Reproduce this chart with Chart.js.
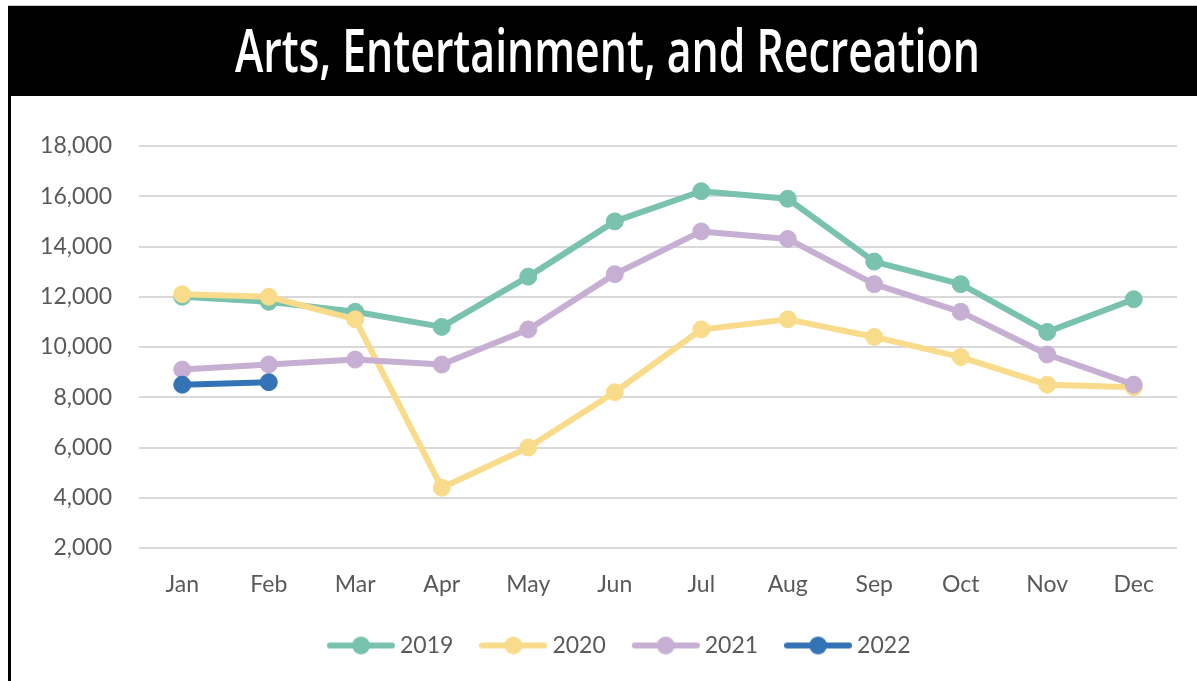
<!DOCTYPE html>
<html>
<head>
<meta charset="utf-8">
<script src="https://cdn.jsdelivr.net/npm/chart.js@4.4.1/dist/chart.umd.min.js"></script>
<style>
    html, body { margin: 0; padding: 0; background: #fff; width: 1197px; height: 681px; overflow: hidden; }
    #topline { position: absolute; left: 8px; top: 5px; width: 1189px; height: 1px; background: #c8c8c8; }
    #header { position: absolute; left: 8px; top: 6px; width: 1189px; height: 90px; background: #000; overflow: hidden; }
    #title { position: absolute; left: 5px; top: 13px; width: 100%; text-align: center; color: #fff;
             font: 600 59px 'Open Sans', 'DejaVu Sans Condensed', sans-serif; line-height: 60px; white-space: nowrap; }
    #title span { display: inline-block; transform-origin: center; }
    #leftline { position: absolute; left: 8px; top: 96px; width: 3px; height: 585px; background: #000; }
    #wrap { position: absolute; left: 11px; top: 96px; width: 1186px; height: 585px; }
</style>
</head>
<body>
<div id="topline"></div>
<div id="header"><div id="title"><span id="titleText">Arts, Entertainment, and Recreation</span></div></div>
<div id="leftline"></div>
<div id="wrap"><canvas id="trendChart" width="1186" height="585"></canvas></div>

<script>
// ---- data ----
const months = ['Jan', 'Feb', 'Mar', 'Apr', 'May', 'Jun', 'Jul', 'Aug', 'Sep', 'Oct', 'Nov', 'Dec'];
const years = ['2019', '2020', '2021', '2022'];
const v2019 = [12000, 11800, 11400, 10800, 12800, 15000, 16200, 15900, 13400, 12500, 10600, 11900];
const v2020 = [12100, 12000, 11100, 4400, 6000, 8200, 10700, 11100, 10400, 9600, 8500, 8400];
const v2021 = [9100, 9300, 9500, 9300, 10700, 12900, 14600, 14300, 12500, 11400, 9700, 8500];
const v2022 = [8500, 8600];
const yMin = 2000, yMax = 18000, yStep = 2000;

const colors = ['#78C2AE', '#F9DC8B', '#C6AFD3', '#3473B5'];
const seriesValues = [v2019, v2020, v2021, v2022];

const TEXT_COLOR = '#595959';
const FONT = "Lato, 'Open Sans', sans-serif";
const LEGEND_DX = 28;

(function() {
    'use strict';

    // stretch/squeeze title to the width seen in the reference
    function fitTitle() {
        const span = document.getElementById('titleText');
        const w = span.getBoundingClientRect().width;
        if (w > 0) span.style.transform = 'scaleX(' + (745 / w) + ')';
    }

    // legend marker: short line with a dot
    function legendMarker(color) {
        const c = document.createElement('canvas');
        c.width = 68; c.height = 20;
        const g = c.getContext('2d');
        g.strokeStyle = color;
        g.lineWidth = 6;
        g.lineCap = 'round';
        g.beginPath(); g.moveTo(3, 10); g.lineTo(65, 10); g.stroke();
        g.fillStyle = color;
        g.beginPath(); g.arc(34, 10, 9, 0, Math.PI * 2); g.fill();
        return c;
    }

    const markers = colors.map(legendMarker);

    const legendShift = {
        id: 'legendShift',
        afterLayout(chart) {
            if (chart.legend) {
                chart.legend.left += LEGEND_DX;
                chart.legend.right += LEGEND_DX;
            }
        }
    };

    function initChart() {
        fitTitle();
        const ctx = document.getElementById('trendChart').getContext('2d');

        const datasets = years.map(function(y, i) {
            return {
                label: y,
                data: seriesValues[i],
                borderColor: colors[i],
                backgroundColor: colors[i],
                borderWidth: 6,
                tension: 0,
                fill: false,
                borderCapStyle: 'round',
                borderJoinStyle: 'round',
                pointBackgroundColor: colors[i],
                pointBorderColor: colors[i],
                pointBorderWidth: 1,
                pointRadius: 8.5,
                order: years.length - i
            };
        });

        new Chart(ctx, {
            type: 'line',
            data: { labels: months, datasets: datasets },
            plugins: [legendShift],
            options: {
                responsive: false,
                animation: false,
                layout: { padding: { left: 0, right: 20, top: 50, bottom: 14 } },
                plugins: {
                    tooltip: { enabled: false },
                    legend: {
                        position: 'bottom',
                        labels: {
                            usePointStyle: true,
                            pointStyleWidth: 55,
                            boxHeight: 20,
                            padding: 32.5,
                            color: TEXT_COLOR,
                            font: { family: FONT, size: 23 },
                            sort: function(a, b) { return a.datasetIndex - b.datasetIndex; },
                            generateLabels: function(chart) {
                                const items = Chart.defaults.plugins.legend.labels.generateLabels(chart);
                                items.forEach(function(it) { it.pointStyle = markers[it.datasetIndex]; });
                                return items;
                            }
                        }
                    }
                },
                scales: {
                    x: {
                        offset: true,
                        grid: { display: false },
                        border: { display: false },
                        ticks: { color: TEXT_COLOR, font: { family: FONT, size: 23 }, padding: 15, maxRotation: 0 },
                        afterFit: function(scale) { scale.height = 53.5; }
                    },
                    y: {
                        min: yMin,
                        max: yMax,
                        grid: { color: '#D9D9D9', lineWidth: 2, drawTicks: false },
                        border: { display: false },
                        ticks: {
                            stepSize: yStep,
                            padding: 27,
                            color: TEXT_COLOR,
                            font: { family: FONT, size: 23 },
                            callback: function(value) { return value.toLocaleString('en-US'); }
                        },
                        afterFit: function(scale) { scale.width = 128; }
                    }
                }
            }
        });
    }

    if (document.readyState === 'loading') {
        document.addEventListener('DOMContentLoaded', initChart);
    } else {
        initChart();
    }
})();
</script>
</body>
</html>
